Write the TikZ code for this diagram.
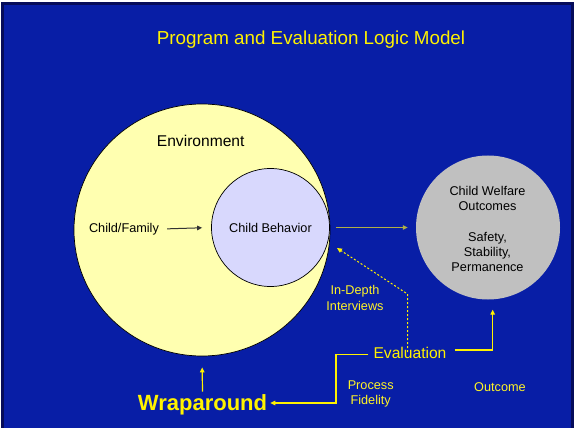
\documentclass[tikz,border=0pt]{standalone}
\usepackage{fontspec}
\setmainfont{Liberation Sans}
\usetikzlibrary{arrows.meta,shapes.geometric}

\definecolor{slideblue}{RGB}{8,30,166}
\definecolor{slideedge}{RGB}{6,12,90}
\definecolor{envfill}{RGB}{255,255,176}
\definecolor{childfill}{RGB}{216,216,253}
\definecolor{welfarefill}{RGB}{192,192,192}
\definecolor{olive}{RGB}{175,175,70}

\begin{document}
\begin{tikzpicture}[x=1pt,y=-1pt,>={Triangle[length=5pt,width=4.5pt]}]
      \tikzset{TextStyle/.style={font=\fontsize{12.7}{15.5}\selectfont, align=center, inner sep=3pt}}
      \tikzset{NoteStyle/.style={TextStyle, text=yellow!85!white}}
      \tikzset{BubbleStyle/.style={draw=black, line width=0.7pt, inner sep=0pt}}
      \tikzset{LinkStyle/.style={yellow, line width=1.2pt}}

      \useasboundingbox (0,0) rectangle (574,428);
      \fill[white] (0,0) rectangle (574,428);
      \fill[slideedge] (1,2) rectangle (574,428);
      \fill[slideblue] (3.5,5) rectangle (571,428);

      \node[TextStyle, text=yellow, font=\fontsize{18.8}{22}\selectfont] (title) at (311,40) {Program and Evaluation Logic Model};

      % the three bubbles
      \node[BubbleStyle, ellipse, fill=envfill, minimum width=256pt, minimum height=252pt] (env) at (202,230) {};
      \node[BubbleStyle, circle, fill=childfill, minimum size=118pt] (behavior) at (270.5,227.5) {};
      \node[circle, fill=welfarefill, minimum size=144pt, inner sep=0pt] (welfare) at (488,227.5) {};

      \node[TextStyle, font=\fontsize{15.6}{18}\selectfont] (envlabel) at (200.7,140.5) {Environment};
      \node[TextStyle] (family) at (124,229) {Child/Family};
      \node[TextStyle] at (behavior) {Child Behavior};
      \node[TextStyle, font=\fontsize{12.7}{15.3}\selectfont] at (487.5,229) {Child Welfare\\Outcomes\\[15.6pt]Safety,\\Stability,\\Permanence};

      % evaluation side
      \node[TextStyle, text=yellow, font=\fontsize{15.6}{18}\selectfont] (eval) at (410,353) {Evaluation};
      \node[TextStyle, text=yellow, font=\fontsize{22}{26}\selectfont\bfseries] (wrap) at (202.5,405) {Wraparound};
      \node[NoteStyle] (interviews) at (355,298) {In-Depth\\Interviews};
      \node[NoteStyle] (fidelity) at (370.7,393.7) {Process\\Fidelity};
      \node[NoteStyle] (outcome) at (500,387) {Outcome};

      \coordinate (evalbend) at (336,403);
      \coordinate (dotbend) at (407.5,294);
      \coordinate (dottip) at (337,248);

      \draw[->, black!80, line width=1pt, shorten <=5pt, shorten >=9pt] (family.east) -- (behavior.west);
      \draw[->, olive, line width=1.3pt, shorten <=6pt, shorten >=8pt] (behavior.east) -- (welfare.west);
      \draw[->, LinkStyle, shorten >=11pt] (wrap.north) -- (env.south);
      \draw[->, LinkStyle, shorten <=2pt] ([yshift=-1.5pt]eval.west) -| (evalbend) -- (evalbend -| wrap.east);
      \draw[->, LinkStyle, shorten <=5pt, shorten >=10pt] ([yshift=3pt]eval.east) -| ([xshift=4.7pt]welfare.south);
      \draw[->, yellow, line width=1pt, dash pattern=on 2pt off 2pt] ([xshift=-2.5pt, yshift=-8pt]eval.north) -- (dotbend) -- (dottip);
\end{tikzpicture}
\end{document}
